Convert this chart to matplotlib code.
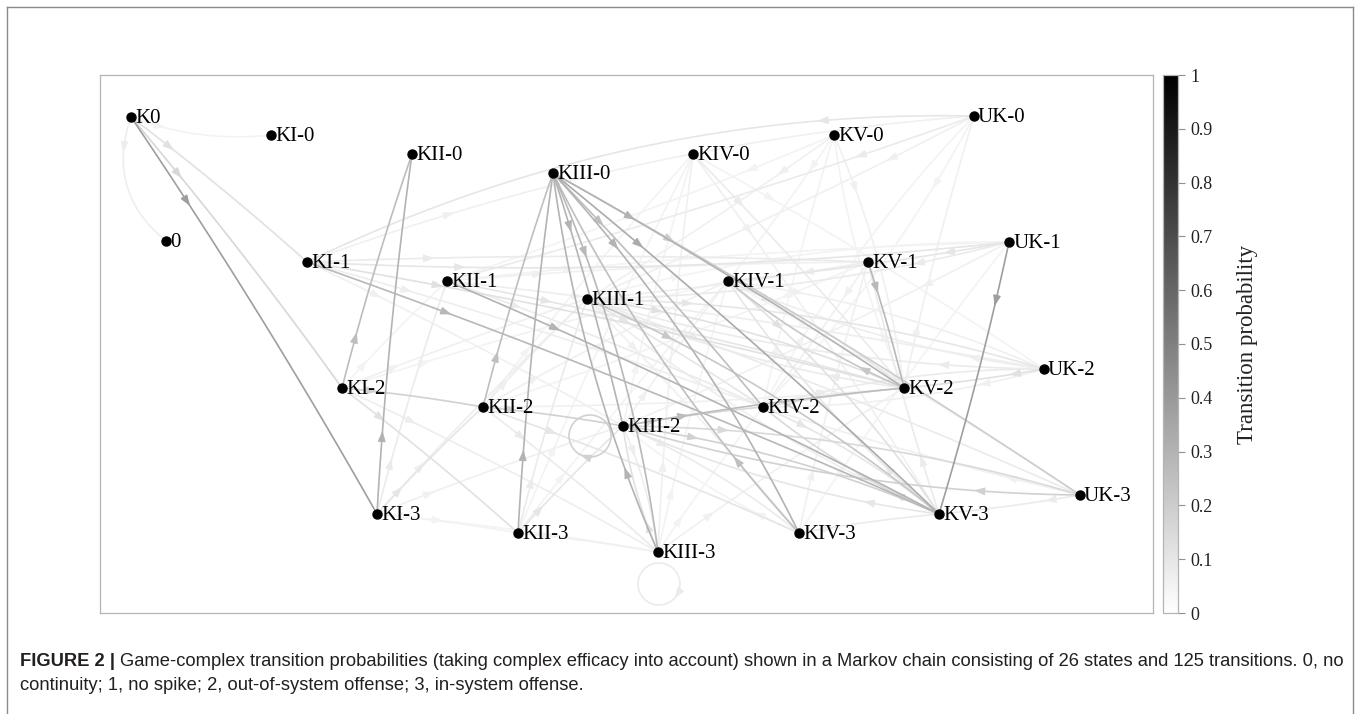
import numpy as np
import matplotlib.pyplot as plt
from matplotlib.patches import FancyArrowPatch, Circle, ArrowStyle
from matplotlib.lines import Line2D
from matplotlib.cm import ScalarMappable
from matplotlib.colors import Normalize

W, H = 1360, 714

# states of the Markov chain and where they sit in the layout
node_names = ['K0', '0', 'KI-0', 'KI-1', 'KI-2', 'KI-3',
              'KII-0', 'KII-1', 'KII-2', 'KII-3',
              'KIII-0', 'KIII-1', 'KIII-2', 'KIII-3',
              'KIV-0', 'KIV-1', 'KIV-2', 'KIV-3',
              'KV-0', 'KV-1', 'KV-2', 'KV-3',
              'UK-0', 'UK-1', 'UK-2', 'UK-3']
node_x = [131, 166, 271, 307, 342, 377,
          412, 447, 483, 518,
          553, 587, 623, 658,
          693, 728, 763, 799,
          834, 868, 904, 939,
          974, 1009, 1044, 1080]
node_y = [117, 241, 135, 262, 388, 514,
          154, 281, 407, 533,
          173, 299, 426, 552,
          154, 281, 407, 533,
          135, 262, 388, 514,
          116, 242, 369, 495]

# transitions: source state, target states, transition probabilities
trans_from = ['K0', 'KI-1', 'KI-2', 'KI-3', 'KII-1', 'KII-2', 'KII-3',
              'KIII-0', 'KIII-1', 'KIII-2', 'KIII-3', 'KIV-0', 'KIV-1',
              'KIV-2', 'KIV-3', 'KV-0', 'KV-1', 'KV-2', 'KV-3',
              'UK-0', 'UK-1', 'UK-2', 'UK-3']
trans_to = [
    ['0', 'KI-0', 'KI-1', 'KI-2', 'KI-3'],
    ['KV-3', 'KV-2', 'UK-1', 'KV-1', 'KIV-2', 'UK-0', 'KIII-2'],
    ['KII-0', 'KII-2', 'KII-3', 'KIII-3', 'KIII-1', 'KIV-1', 'KII-1'],
    ['KII-0', 'KII-1', 'KII-2', 'KIII-1', 'KIII-2', 'KIII-3', 'KII-3'],
    ['KV-3', 'KV-2', 'KIV-2', 'UK-2', 'KV-1', 'UK-1'],
    ['KIII-0', 'KIII-2', 'KIV-3', 'KIII-3', 'KIII-1', 'KIV-1', 'KIV-0'],
    ['KIII-0', 'KIII-2', 'KIII-1', 'KIV-0', 'KIII-3', 'KIV-1'],
    ['KIII-2', 'KIII-3', 'KIV-3', 'KV-3', 'KV-2', 'KIV-2', 'UK-3'],
    ['KV-3', 'KV-2', 'UK-2', 'KIV-2', 'UK-3', 'KIV-3', 'UK-1'],
    ['KIII-2', 'KV-2', 'KIV-2', 'KV-3', 'UK-3', 'KIV-3', 'KIII-3', 'KIV-1', 'KIV-0'],
    ['KIII-3', 'KIII-0', 'KIII-2', 'KIV-0', 'KIV-1', 'KV-2', 'KIV-2'],
    ['KV-2', 'KV-3', 'UK-2'],
    ['KV-3', 'KV-2', 'UK-2', 'UK-3'],
    ['KV-2', 'KV-3', 'UK-2', 'KV-0', 'UK-0'],
    ['KIII-0', 'KV-3', 'KV-1', 'UK-1', 'KIII-2'],
    ['KIII-1', 'KII-1', 'KIV-1', 'KV-2'],
    ['KV-2', 'KIII-1', 'KIV-2', 'KII-2'],
    ['KIV-1', 'KIII-1', 'KII-2', 'UK-0', 'KV-0'],
    ['KIV-2', 'KIII-2', 'KV-1', 'KIV-1', 'KIII-1'],
    ['KI-1', 'KII-1', 'KIII-1', 'KIV-2'],
    ['KV-3', 'KIV-1', 'KIII-1', 'KIII-2'],
    ['KV-2', 'KIV-1', 'KIII-1', 'KIV-2'],
    ['KIII-2', 'KV-3', 'KIV-2'],
]
trans_prob = [
    [0.07, 0.05, 0.12, 0.16, 0.38],
    [0.28, 0.12, 0.10, 0.08, 0.07, 0.06, 0.06],
    [0.26, 0.18, 0.12, 0.07, 0.06, 0.05, 0.05],
    [0.30, 0.08, 0.10, 0.07, 0.06, 0.05, 0.05],
    [0.30, 0.10, 0.08, 0.07, 0.06, 0.05],
    [0.25, 0.18, 0.10, 0.08, 0.07, 0.06, 0.05],
    [0.30, 0.10, 0.08, 0.05, 0.06, 0.05],
    [0.30, 0.28, 0.30, 0.33, 0.30, 0.26, 0.20],
    [0.22, 0.12, 0.10, 0.10, 0.08, 0.06, 0.05],
    [0.18, 0.26, 0.15, 0.18, 0.15, 0.08, 0.07, 0.06, 0.05],
    [0.08, 0.30, 0.12, 0.06, 0.05, 0.06, 0.05],
    [0.08, 0.06, 0.05],
    [0.12, 0.10, 0.06, 0.05],
    [0.12, 0.10, 0.08, 0.05, 0.05],
    [0.25, 0.08, 0.06, 0.05, 0.05],
    [0.06, 0.05, 0.05, 0.06],
    [0.28, 0.07, 0.06, 0.05],
    [0.22, 0.08, 0.06, 0.06, 0.05],
    [0.15, 0.10, 0.08, 0.10, 0.07],
    [0.10, 0.08, 0.06, 0.05],
    [0.38, 0.10, 0.08, 0.06],
    [0.12, 0.07, 0.08, 0.06],
    [0.18, 0.08, 0.06],
]

# a few edges drawn with extra bend
bend = {('K0', '0'): -0.35, ('K0', 'KI-0'): -0.12, ('UK-0', 'KI-1'): -0.12,
        ('KI-1', 'UK-1'): -0.04, ('UK-1', 'KIII-1'): 0.06}
loop_offset = {'KIII-2': (-33, 10), 'KIII-3': (1, 32)}

pos = {n: np.array([x, y], float) for n, x, y in zip(node_names, node_x, node_y)}
edges = []
for s, tos, ps in zip(trans_from, trans_to, trans_prob):
    for t, p in zip(tos, ps):
        edges.append((s, t, p))
edge_set = {(s, t) for s, t, _ in edges}

cmap = plt.get_cmap('gray_r')
astyle = ArrowStyle('-|>', head_length=0.7, head_width=0.25)

fig = plt.figure(figsize=(W / 100, H / 100), dpi=100)
ax = fig.add_axes([100 / W, 1 - 613 / H, 1053 / W, 538 / H])
ax.set_xlim(100, 1153)
ax.set_ylim(613, 75)
ax.set_xticks([])
ax.set_yticks([])
for sp in ax.spines.values():
    sp.set_color('#b4b4b4')
    sp.set_linewidth(0.9)

for s, t, p in sorted(edges, key=lambda e: e[2]):
    col = cmap(p)
    z = 1 + p
    if s == t:
        dx, dy = loop_offset[s]
        c = pos[s] + np.array([dx, dy])
        r = 21
        ax.add_patch(Circle(c, r, fill=False, ec=col, lw=1.2, zorder=z))
        ang = np.arctan2(pos[s][1] - c[1], pos[s][0] - c[0]) + 2.2
        pa = c + r * np.array([np.cos(ang), np.sin(ang)])
        tang = np.array([-np.sin(ang), np.cos(ang)])
        ax.add_patch(FancyArrowPatch(pa - 5 * tang, pa + 3 * tang, arrowstyle=astyle,
                                     mutation_scale=9, color=col, lw=1.0,
                                     shrinkA=0, shrinkB=0, zorder=z))
        continue
    p0, p2 = pos[s], pos[t]
    rad = bend.get((s, t), 0.07 if (t, s) in edge_set else 0.02)
    d = p2 - p0
    c = (p0 + p2) / 2 + rad * np.array([d[1], -d[0]])
    tt = np.linspace(0, 1, 80)[:, None]
    pts = (1 - tt) ** 2 * p0 + 2 * (1 - tt) * tt * c + tt ** 2 * p2
    ax.plot(pts[:, 0], pts[:, 1], color=col, lw=1.2, zorder=z, solid_capstyle='round')
    ta = 0.22
    pa = (1 - ta) ** 2 * p0 + 2 * (1 - ta) * ta * c + ta ** 2 * p2
    dv = 2 * (1 - ta) * (c - p0) + 2 * ta * (p2 - c)
    dv = dv / np.linalg.norm(dv)
    ax.add_patch(FancyArrowPatch(pa - 5 * dv, pa + 4 * dv, arrowstyle=astyle,
                                 mutation_scale=9, color=col, lw=1.0,
                                 shrinkA=0, shrinkB=0, zorder=z))

ax.plot(node_x, node_y, 'o', color='black', ms=6.5, zorder=10)
for n, x, y in zip(node_names, node_x, node_y):
    ax.text(x + 4, y + 1, n, fontsize=15, family='Liberation Serif',
            va='center', ha='left', zorder=11)

# colorbar
cax = fig.add_axes([1163 / W, 1 - 613 / H, 15 / W, 538 / H])
cb = fig.colorbar(ScalarMappable(norm=Normalize(0, 1), cmap=cmap), cax=cax,
                  ticks=np.round(np.arange(0, 1.01, 0.1), 1))
cb.ax.set_yticklabels(['0'] + ['%.1f' % v for v in np.arange(0.1, 0.95, 0.1)] + ['1'],
                      family='Liberation Serif', fontsize=13, color='#222222')
cb.ax.tick_params(direction='out', length=5, width=0.8, color='#909090', pad=4)
cb.outline.set_edgecolor('#b4b4b4')
cb.outline.set_linewidth(0.9)
fig.text(1248 / W, 1 - 344 / H, 'Transition probability', rotation=90,
         family='Liberation Serif', fontsize=16.5, color='#222222',
         ha='center', va='center')

# outer frame
for xs, ys in [([7, 7], [714, 7]), ([7, 1353], [7, 7]), ([1353, 1353], [7, 714])]:
    fig.add_artist(Line2D([x / W for x in xs], [1 - y / H for y in ys],
                          color='#8a8a8a', lw=1.0))

# caption
cap_font = ['Liberation Sans Narrow', 'Liberation Sans']
t1 = fig.text(20 / W, 1 - 662 / H, 'FIGURE 2 |', fontsize=13.2, weight='bold',
              family=cap_font, va='center', ha='left', color='#231f20')
rend = fig.canvas.get_renderer()
bb = t1.get_window_extent(rend)
fig.text((bb.x1 + 5) / W, 1 - 662 / H,
         'Game-complex transition probabilities (taking complex efficacy into account) '
         'shown in a Markov chain consisting of 26 states and 125 transitions. 0, no',
         fontsize=13.2, family=cap_font, va='center', ha='left', color='#231f20')
fig.text(20 / W, 1 - 686 / H, 'continuity; 1, no spike; 2, out-of-system offense; '
         '3, in-system offense.', fontsize=13.2, family=cap_font, va='center',
         ha='left', color='#231f20')

fig.savefig('out.png', dpi=100)
